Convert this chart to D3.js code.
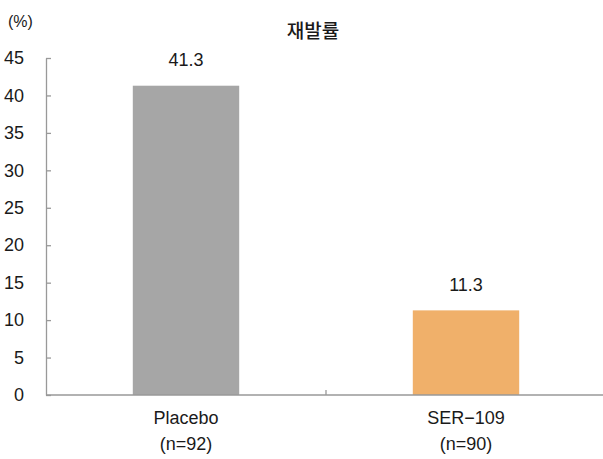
<!DOCTYPE html>
<html>
<head>
<meta charset="utf-8">
<script src="https://cdn.jsdelivr.net/npm/d3@7"></script>
<style>
  body { margin: 0; background: #fff; }
  svg text { font-family: "Liberation Sans", "Noto Sans CJK KR", sans-serif; fill: #1a1a1a; }
</style>
</head>
<body>
<svg></svg>
<script>
const title = "재발률";
const unitLabel = "(%)";
const categories = ["Placebo", "SER−109"];
const subLabels = ["(n=92)", "(n=90)"];
const values = [41.3, 11.3];
const barColors = ["#a6a6a6", "#f0b06a"];
const yTicks = [0, 5, 10, 15, 20, 25, 30, 35, 40, 45];

(() => {
    const width = 603;
    const height = 459;

    const svg = d3.select("svg")
        .attr("width", width)
        .attr("height", height);

    const xScale = d3.scaleBand()
        .domain(categories)
        .range([46, 606])
        .paddingInner(0.62)
        .paddingOuter(0.31);

    const yScale = d3.scaleLinear()
        .domain([0, 45])
        .range([395, 58]);

    // y axis, ticks pointing inward
    const yAxis = svg.append("g")
        .attr("transform", "translate(46,0)")
        .call(d3.axisLeft(yScale)
            .tickValues(yTicks)
            .tickSizeInner(-5)
            .tickSizeOuter(0)
            .tickPadding(22));
    yAxis.selectAll("path, line").attr("stroke", "#999").attr("stroke-width", 1.3);
    yAxis.selectAll("text")
        .attr("font-size", 18)
        .attr("fill", "#1a1a1a");

    // x axis line + boundary tick
    const xAxis = svg.append("g");
    xAxis.append("line")
        .attr("x1", 46).attr("x2", width)
        .attr("y1", yScale(0)).attr("y2", yScale(0))
        .attr("stroke", "#999").attr("stroke-width", 1.3);
    xAxis.selectAll("line.tick")
        .data(categories.slice(1))
        .enter()
        .append("line")
        .attr("class", "tick")
        .attr("x1", d => xScale(d) - xScale.step() * xScale.paddingInner() / 2)
        .attr("x2", d => xScale(d) - xScale.step() * xScale.paddingInner() / 2)
        .attr("y1", yScale(0) - 5)
        .attr("y2", yScale(0))
        .attr("stroke", "#999").attr("stroke-width", 1.3);

    // bars
    svg.selectAll("rect.bar")
        .data(values)
        .enter()
        .append("rect")
        .attr("class", "bar")
        .attr("x", (d, i) => xScale(categories[i]))
        .attr("width", xScale.bandwidth())
        .attr("y", d => yScale(d))
        .attr("height", d => yScale(0) - yScale(d))
        .attr("fill", (d, i) => barColors[i]);

    // redraw baseline over bars
    xAxis.raise();

    // value labels
    svg.selectAll("text.value")
        .data(values)
        .enter()
        .append("text")
        .attr("class", "value")
        .attr("x", (d, i) => xScale(categories[i]) + xScale.bandwidth() / 2)
        .attr("y", d => yScale(d) - 26)
        .attr("dy", "0.35em")
        .attr("text-anchor", "middle")
        .attr("font-size", 18)
        .text(d => d.toFixed(1));

    // category labels
    const catLabels = svg.selectAll("text.cat")
        .data(categories)
        .enter()
        .append("text")
        .attr("class", "cat")
        .attr("text-anchor", "middle")
        .attr("font-size", 18);
    catLabels.append("tspan")
        .attr("x", d => xScale(d) + xScale.bandwidth() / 2)
        .attr("y", 418)
        .attr("dy", "0.35em")
        .text(d => d);
    catLabels.append("tspan")
        .attr("x", d => xScale(d) + xScale.bandwidth() / 2)
        .attr("y", 444)
        .attr("dy", "0.35em")
        .text((d, i) => subLabels[i]);

    svg.append("text")
        .attr("x", 313)
        .attr("y", 31)
        .attr("dy", "0.35em")
        .attr("text-anchor", "middle")
        .attr("font-size", 19)
        .attr("font-weight", 500)
        .style("font-family", "'Noto Sans CJK KR', sans-serif")
        .text(title);

    svg.append("text")
        .attr("x", 8)
        .attr("y", 21)
        .attr("dy", "0.35em")
        .attr("font-size", 16)
        .text(unitLabel);
})();
</script>
</body>
</html>
